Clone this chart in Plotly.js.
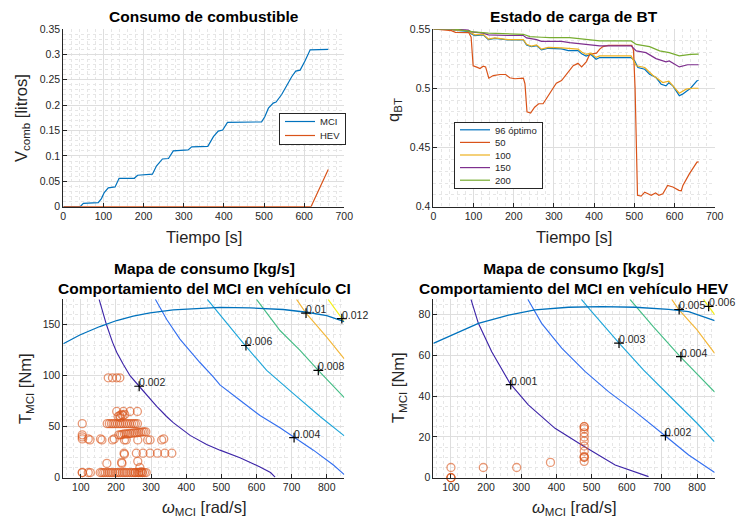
<!DOCTYPE html>
<html><head><meta charset="utf-8">
<script src="https://cdn.plot.ly/plotly-3.0.1.min.js"></script>
<style>html,body{margin:0;padding:0;background:#fff}#chart{width:736px;height:524px}</style>
</head><body><div id="chart"></div>
<script>
// ---------- Top-left: fuel consumption ----------
const fuelMciT = [0, 42, 50, 87, 95, 102, 112, 129, 139, 177, 185, 222, 232, 241, 247, 262, 274, 311, 320, 360, 374, 386, 397, 409, 494, 502, 511, 523, 530, 544, 556, 569, 579, 590, 602, 615, 660];
const fuelMciV = [0, 0, 0.0066, 0.0079, 0.016, 0.028, 0.037, 0.039, 0.056, 0.056, 0.062, 0.064, 0.080, 0.089, 0.094, 0.095, 0.110, 0.112, 0.118, 0.119, 0.138, 0.149, 0.151, 0.166, 0.167, 0.177, 0.194, 0.204, 0.206, 0.221, 0.238, 0.256, 0.267, 0.269, 0.287, 0.309, 0.310];
const fuelHevT = [0, 617, 660];
const fuelHevV = [0, 0, 0.0735];

// ---------- Top-right: battery state of charge ----------
const socNames = ['96 óptimo', '50', '100', '150', '200'];
const socOptT = [0, 45, 50, 87, 95, 103, 124, 137, 153, 186, 224, 232, 244, 257, 269, 286, 319, 336, 360, 369, 380, 392, 405, 414, 492, 501, 509, 526, 538, 554, 567, 579, 586, 596, 612, 620, 640, 656, 660];
const socOptQ = [0.55, 0.55, 0.549, 0.548, 0.5458, 0.5444, 0.545, 0.541, 0.5421, 0.5407, 0.5407, 0.5365, 0.535, 0.536, 0.5323, 0.5337, 0.5332, 0.5318, 0.5318, 0.529, 0.5272, 0.5285, 0.5245, 0.5259, 0.5259, 0.5231, 0.5175, 0.516, 0.5118, 0.509, 0.5034, 0.502, 0.5045, 0.502, 0.4937, 0.495, 0.5, 0.5063, 0.5065];
const soc50T = [0, 45, 55, 88, 94, 99, 108, 116, 124, 130, 138, 149, 166, 180, 190, 203, 224, 228, 233, 242, 252, 262, 273, 290, 306, 319, 336, 348, 360, 369, 381, 389, 406, 414, 422, 435, 494, 498, 502, 506, 508, 517, 526, 534, 542, 553, 561, 571, 583, 596, 611, 617, 621, 637, 656, 660];
const soc50Q = [0.55, 0.5486, 0.5472, 0.547, 0.543, 0.519, 0.5178, 0.5166, 0.5186, 0.518, 0.5085, 0.5107, 0.5116, 0.5116, 0.5088, 0.508, 0.5085, 0.5037, 0.480, 0.479, 0.484, 0.4869, 0.4869, 0.4953, 0.5043, 0.5065, 0.5135, 0.519, 0.521, 0.518, 0.5225, 0.5287, 0.5296, 0.533, 0.5351, 0.5362, 0.5362, 0.532, 0.50, 0.44, 0.4096, 0.409, 0.4123, 0.411, 0.4096, 0.4117, 0.4096, 0.411, 0.418, 0.4166, 0.4138, 0.4135, 0.418, 0.4277, 0.4376, 0.4378];
const soc100T = [0, 45, 50, 87, 95, 103, 124, 137, 153, 186, 224, 232, 244, 257, 269, 286, 319, 360, 369, 380, 392, 405, 414, 492, 505, 526, 546, 571, 586, 612, 629, 645, 660];
const soc100Q = [0.55, 0.55, 0.5492, 0.5485, 0.5465, 0.545, 0.5455, 0.5415, 0.5425, 0.541, 0.541, 0.537, 0.5355, 0.5365, 0.533, 0.5345, 0.534, 0.533, 0.5305, 0.5285, 0.5295, 0.526, 0.5273, 0.5273, 0.5189, 0.5175, 0.511, 0.5048, 0.506, 0.4958, 0.4992, 0.5, 0.5];
const soc150T = [0, 50, 87, 95, 124, 137, 186, 224, 232, 257, 269, 319, 339, 385, 397, 414, 492, 505, 529, 554, 579, 587, 612, 633, 660];
const soc150Q = [0.55, 0.55, 0.549, 0.5475, 0.5465, 0.545, 0.5445, 0.5445, 0.5425, 0.541, 0.5395, 0.5395, 0.5385, 0.537, 0.5362, 0.5357, 0.5357, 0.5315, 0.530, 0.525, 0.5222, 0.523, 0.518, 0.5198, 0.5198];
const soc200T = [0, 50, 100, 137, 224, 240, 269, 290, 339, 389, 414, 492, 505, 538, 563, 587, 612, 640, 660];
const soc200Q = [0.55, 0.55, 0.5475, 0.5465, 0.5455, 0.5435, 0.543, 0.5427, 0.5427, 0.5407, 0.5399, 0.5399, 0.537, 0.5351, 0.5315, 0.530, 0.5273, 0.5285, 0.5287];

// ---------- Bottom-left: CI engine map ----------
const ciMaxW = [50, 97, 154, 202, 249, 297, 363, 439, 496, 581, 676, 743, 800, 850];
const ciMaxT = [131.4, 140, 148.3, 154.2, 158.4, 161.7, 164.6, 166.3, 167, 166.6, 165, 162.3, 159, 153.2];
const ciC1W = [152, 162, 173, 190, 202, 221, 240, 266, 297, 316, 344, 363, 411, 439, 458, 496, 553, 610, 640, 653];
const ciC1T = [175, 162, 150, 133, 123, 111, 100, 89.7, 77, 70, 60, 54, 41.5, 36.5, 32.5, 27, 19.5, 10.5, 5, 0.5];
const ciC2W = [312, 330, 345, 382, 439, 477, 496, 553, 610, 667, 707, 762, 819, 850];
const ciC2T = [175, 164, 155, 136, 113, 99, 91, 76, 61, 49, 39.5, 27, 12.4, 3];
const ciC3W = [460, 482, 522, 567, 629, 705, 781, 850];
const ciC3T = [175, 166, 149, 130, 105.3, 82.5, 60, 41];
const ciC4W = [600, 667, 724, 776, 850];
const ciC4T = [175, 144.4, 124.9, 105.3, 78.6];
const ciC5W = [714, 741, 800, 850];
const ciC5T = [175, 161.4, 138, 116.5];
const ciC6W = [804, 845, 850];
const ciC6T = [175, 155.9, 153];
const ciLblW = [266, 707, 570, 776, 741, 843];
const ciLblT = [89.7, 39.3, 129.7, 105.3, 161.5, 156];
const ciLblText = ['0.002', '0.004', '0.006', '0.008', '0.01', '0.012'];
const ciOpW = [178, 190, 202, 211, 202, 221, 240, 261, 206, 211, 216, 220, 225, 212,
  104, 175, 181, 187, 192, 198, 204, 210, 215, 221, 227, 232, 238, 244, 250, 255, 261,
  208, 213, 218, 224, 229, 234, 239, 244, 250, 255, 260, 265, 270, 275, 280, 285,
  104, 104, 104, 121, 126, 156, 160, 190, 195, 224, 229, 262, 290, 297, 330, 336,
  223, 224, 258, 277, 297, 318, 339, 359, 174, 216, 217, 262, 268, 271,
  104, 104, 121, 127, 155, 160, 165, 170, 176, 181, 186, 191, 197, 202, 207, 212, 218, 223, 228, 233, 239, 244, 249, 254, 260, 265, 270, 275, 281, 286, 255, 265, 275];
const ciOpT = [98, 98, 98, 98, 65, 65, 65, 65, 60, 61, 62, 61, 62, 59,
  53, 53, 53, 53, 53, 53, 53, 53, 53, 53, 53, 53, 53, 53, 53, 53, 53,
  42, 42, 42.5, 43, 43, 43, 43.5, 43.5, 44, 44, 44, 44.5, 44.5, 45, 45, 45,
  42, 40, 38, 38, 37, 38, 37, 37, 38, 37, 37, 37, 37, 37, 37, 38,
  24, 23, 24, 24, 24, 24, 24, 24, 14, 15, 14, 16, 10, 6,
  5, 5, 5, 5, 5, 5, 5, 5, 5, 5, 5, 5, 5, 5, 5, 5, 5, 5, 5, 5, 5, 5, 5, 5, 5, 5, 5, 5, 5, 5, 5, 5, 5];

// ---------- Bottom-right: HEV engine map ----------
const hevMaxW = [50, 102, 178, 264, 339, 434, 529, 624, 719, 776, 850];
const hevMaxT = [65.9, 70, 75.7, 79.8, 82.3, 83.6, 83.9, 83.6, 82.6, 81.5, 77];
const hevC1W = [157, 178, 216, 268, 320, 396, 472, 567, 662];
const hevC1T = [87.5, 75.7, 61.8, 46.3, 35.7, 24.2, 16, 6.2, 0.5];
const hevC2W = [318.6, 358, 415, 482, 548, 624, 709, 776, 850];
const hevC2T = [87.5, 75.7, 63.5, 52, 42.2, 32.4, 20.6, 11.1, 2.5];
const hevC3W = [471, 496, 577, 648, 724, 800, 849];
const hevC3T = [87.5, 82.3, 66.2, 52.8, 39.7, 26.7, 17.7];
const hevC4W = [609, 676, 752, 850];
const hevC4T = [87.5, 74, 59.4, 42];
const hevC5W = [728, 747.5, 800, 850];
const hevC5T = [87.5, 82.6, 72.5, 61];
const hevC6W = [818, 833, 850];
const hevC6T = [87.5, 84.2, 80];
const hevLblW = [270, 710, 578, 754, 749, 833];
const hevLblT = [45.6, 20.6, 66, 59.4, 82.5, 84];
const hevLblText = ['0.001', '0.002', '0.003', '0.004', '0.005', '0.006'];
const hevOpW = [100, 100, 100, 100, 192, 287, 383, 479, 479, 479, 479, 479, 479, 479, 479, 479, 479, 479, 479];
const hevOpT = [5, 0, 0, 0, 5, 5, 7.5, 25, 25, 24, 22, 20, 18, 15.5, 13, 10.5, 10, 10, 8];

// ---------- styling ----------
const C_BLUE = '#0072BD', C_ORANGE = '#D95319', C_YEL = '#EDB120', C_PURP = '#7E2F8E', C_GREEN = '#77AC30';
const parula = ['#3E26A8', '#3470F0', '#1FA6DA', '#45BD86', '#F3B73A', '#F4F016'];
const TXT = '#262626';
const FONT = 'Liberation Sans, Arial, Helvetica, sans-serif';

const traces = [];
const annotations = [];
function line(x, y, name, color, xa, ya, extra) {
  return Object.assign({x, y, name, type: 'scatter', mode: 'lines', line: {color, width: 1.2}, xaxis: xa, yaxis: ya, hoverinfo: 'skip'}, extra || {});
}
traces.push(line(fuelMciT, fuelMciV, 'MCI', C_BLUE, 'x', 'y', {legend: 'legend'}));
traces.push(line(fuelHevT, fuelHevV, 'HEV', C_ORANGE, 'x', 'y', {legend: 'legend'}));

traces.push(line(socOptT, socOptQ, socNames[0], C_BLUE, 'x2', 'y2', {legend: 'legend2'}));
traces.push(line(soc50T, soc50Q, socNames[1], C_ORANGE, 'x2', 'y2', {legend: 'legend2'}));
traces.push(line(soc100T, soc100Q, socNames[2], C_YEL, 'x2', 'y2', {legend: 'legend2'}));
traces.push(line(soc150T, soc150Q, socNames[3], C_PURP, 'x2', 'y2', {legend: 'legend2'}));
traces.push(line(soc200T, soc200Q, socNames[4], C_GREEN, 'x2', 'y2', {legend: 'legend2'}));

function mapTraces(xa, ya, cW, cT, maxW, maxT, opW, opT, lW, lT, lText) {
  for (let i = 0; i < cW.length; i++) {
    traces.push(line(cW[i], cT[i], 'c' + i, parula[i], xa, ya, {showlegend: false, line: {color: parula[i], width: 1.15}}));
  }
  traces.push(line(maxW, maxT, 'max', C_BLUE, xa, ya, {showlegend: false, line: {color: C_BLUE, width: 1.3}}));
  traces.push({x: opW, y: opT, type: 'scatter', mode: 'markers', xaxis: xa, yaxis: ya, showlegend: false, hoverinfo: 'skip',
    cliponaxis: false, marker: {symbol: 'circle-open', size: 8, color: C_ORANGE, opacity: 0.6, line: {width: 1.3}}});
  traces.push({x: lW, y: lT, type: 'scatter', mode: 'markers', xaxis: xa, yaxis: ya, showlegend: false, hoverinfo: 'skip',
    cliponaxis: false, marker: {symbol: 'cross-thin', size: 7, color: '#000', line: {width: 1.2, color: '#000'}}});
  for (let i = 0; i < lW.length; i++) {
    annotations.push({x: lW[i], y: lT[i], xref: xa, yref: ya, text: lText[i], showarrow: false,
      xanchor: 'left', yanchor: 'bottom', xshift: -1, yshift: -3, borderpad: 0,
      font: {size: 10.5, color: TXT, family: FONT}});
  }
}
mapTraces('x3', 'y3', [ciC1W, ciC2W, ciC3W, ciC4W, ciC5W, ciC6W], [ciC1T, ciC2T, ciC3T, ciC4T, ciC5T, ciC6T],
  ciMaxW, ciMaxT, ciOpW, ciOpT, ciLblW, ciLblT, ciLblText);
mapTraces('x4', 'y4', [hevC1W, hevC2W, hevC3W, hevC4W, hevC5W, hevC6W], [hevC1T, hevC2T, hevC3T, hevC4T, hevC5T, hevC6T],
  hevMaxW, hevMaxT, hevOpW, hevOpT, hevLblW, hevLblT, hevLblText);

function axis(domain, range, dtick, minorDtick, anchor, extra) {
  return Object.assign({
    domain, range, dtick, tick0: 0, anchor, autorange: false, fixedrange: true,
    showline: true, linecolor: TXT, linewidth: 1, mirror: false,
    ticks: 'inside', ticklen: 4, tickcolor: TXT, tickwidth: 1,
    tickfont: {size: 10.5, color: TXT, family: FONT},
    showgrid: true, gridcolor: '#dedede', gridwidth: 1, zeroline: false,
    minor: {dtick: minorDtick, tick0: 0, showgrid: true, gridcolor: '#e6e6e6', griddash: 'dot', gridwidth: 1, ticks: ''}
  }, extra || {});
}
const XL = [0.0860, 0.4678], XR = [0.5888, 0.9710];
const YT = [0.6055, 0.9447], YB = [0.0884, 0.4288];

function ann(text, xpx, ypx, size, extra) {
  return Object.assign({text, x: xpx / 736, y: 1 - ypx / 524, xref: 'paper', yref: 'paper', showarrow: false,
    xanchor: 'center', yanchor: 'middle', font: {size, color: TXT, family: FONT}}, extra || {});
}
const TF = {size: 15.5, color: '#000', family: FONT};
annotations.push(
  ann('<b>Consumo de combustible</b>', 204, 16, 15.5, {font: TF}),
  ann('<b>Estado de carga de BT</b>', 574, 16, 15.5, {font: TF}),
  ann('<b>Mapa de consumo [kg/s]<br>Comportamiento del MCI en vehículo CI</b>', 204, 278, 15.5, {font: TF}),
  ann('<b>Mapa de consumo [kg/s]<br>Comportamiento del MCI en vehículo HEV</b>', 574, 278, 15.5, {font: TF}),
  ann('Tiempo [s]', 204, 237, 16.5),
  ann('Tiempo [s]', 574, 237, 16.5),
  ann('<i>ω</i><sub>MCI</sub> [rad/s]', 204, 508, 16.5),
  ann('<i>ω</i><sub>MCI</sub> [rad/s]', 574, 508, 16.5),
  ann('V<sub>comb</sub> [litros]', 22, 118, 16.5, {textangle: -90}),
  ann('q<sub>BT</sub>', 394, 110, 16.5, {textangle: -90}),
  ann('T<sub>MCI</sub> [Nm]', 26, 388, 16.5, {textangle: -90}),
  ann('T<sub>MCI</sub> [Nm]', 399, 388, 16.5, {textangle: -90})
);

const legendBase = {bgcolor: '#fff', bordercolor: TXT, borderwidth: 1, xanchor: 'left', yanchor: 'top',
  font: {size: 9.5, color: TXT, family: FONT}, itemwidth: 30, tracegroupgap: 0, traceorder: 'normal'};

const layout = {
  width: 736, height: 524, margin: {l: 0, r: 0, t: 0, b: 0},
  paper_bgcolor: '#fff', plot_bgcolor: '#fff',
  font: {family: FONT, size: 11, color: TXT},
  showlegend: true, hovermode: false,
  xaxis: axis(XL, [0, 700], 100, 20, 'y'),
  yaxis: axis(YT, [0, 0.35], 0.05, 0.01, 'x'),
  xaxis2: axis(XR, [0, 700], 100, 20, 'y2'),
  yaxis2: axis(YT, [0.4, 0.55], 0.05, 0.01, 'x2'),
  xaxis3: axis(XL, [50, 850], 100, 20, 'y3'),
  yaxis3: axis(YB, [0, 175], 50, 10, 'x3'),
  xaxis4: axis(XR, [50, 850], 100, 20, 'y4'),
  yaxis4: axis(YB, [0, 87.5], 20, 5, 'x4'),
  legend: Object.assign({}, legendBase, {x: 279 / 736, y: 1 - 113 / 524}),
  legend2: Object.assign({}, legendBase, {x: 454 / 736, y: 1 - 122 / 524}),
  annotations
};

// tighten the legend rows to the compact spacing of the reference
function compactLegend(gd, id, step, pad) {
  const g = gd.querySelector('g.' + id);
  if (!g) return;
  const items = g.querySelectorAll('g.traces');
  let maxRight = 0;
  items.forEach((it, i) => {
    const tr = it.getAttribute('transform') || '';
    const m = /translate\(\s*([-\d.]+)[ ,]+([-\d.]+)\s*\)/.exec(tr);
    const x = m ? +m[1] : 1;
    it.setAttribute('transform', 'translate(' + x + ',' + (pad + step * (i + 0.5)) + ')');
    const t = it.querySelector('text.legendtext');
    if (t) {
      const bb = t.getBBox();
      maxRight = Math.max(maxRight, x + bb.x + bb.width);
    }
  });
  const h = pad * 2 + step * items.length;
  const bg = g.querySelector('rect.bg');
  if (bg) {
    bg.setAttribute('height', h);
    if (maxRight > 0) bg.setAttribute('width', maxRight + 5);
  }
  const sb = g.querySelector('g.scrollbox');
  if (sb) sb.removeAttribute('clip-path');
}

Plotly.newPlot('chart', traces, layout, {staticPlot: true, displayModeBar: false}).then(gd => {
  compactLegend(gd, 'legend', 14, 1.5);
  compactLegend(gd, 'legend2', 12.6, 1.5);
});
</script></body></html>
